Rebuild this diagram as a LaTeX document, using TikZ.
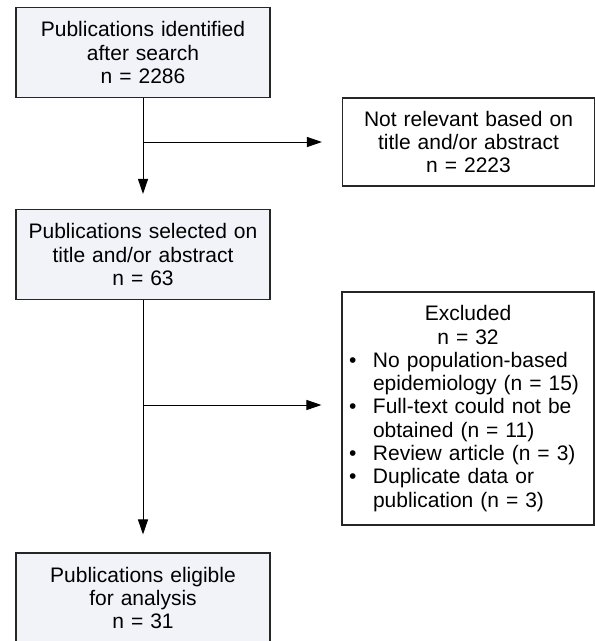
\documentclass[tikz,border=0pt]{standalone}
\usepackage{fontspec}
\setmainfont{Liberation Sans}
\usepackage{xcolor}
\usepackage{tikz}
\usetikzlibrary{arrows.meta}
\definecolor{boxfill}{HTML}{F2F3F9}

\newcommand{\exitem}[1]{\par\hangindent=26pt\hangafter=1\noindent\makebox[26pt][l]{\hspace{2pt}\textbullet}#1\par}

\begin{document}
\begin{tikzpicture}[x=1pt, y=1pt,
    every node/.style={font=\fontsize{21}{23.3}\selectfont},
    mainbox/.style={rectangle, draw=black!85, line width=1.1pt, fill=boxfill, minimum width=254pt, minimum height=90pt, text width=244pt, align=center, inner sep=0pt},
    sidebox/.style={rectangle, draw=black!85, line width=1.1pt, fill=white, minimum width=252pt, text width=242pt, inner sep=0pt},
    flow/.style={line width=1pt, -{Triangle[length=15pt, width=10pt]}, shorten >=16pt}]
			\useasboundingbox (0,0) rectangle (595,-641);
			% Nodes
			\node[mainbox] (found) at (143,-52.5) {Publications identified\\after search\\n = 2286};
			\node[mainbox] (selected) at (143,-254.5) {Publications selected on\\title and/or abstract\\n = 63};
			\node[mainbox] (eligible) at (143,-598) {Publications eligible\\for analysis\\n = 31};
			\node[sidebox, minimum height=88pt, align=center] (notrel) at (468.5,-142) {Not relevant based on\\title and/or abstract\\n = 2223};
			\node[sidebox, minimum height=233pt] (excl) at (468,-408.5) {%
				{\centering Excluded\\n = 32\par}\raggedright
				\exitem{No population-based\newline epidemiology (n = 15)}
				\exitem{Full-text could not be\newline obtained (n = 11)}
				\exitem{Review article (n = 3)}
				\exitem{Duplicate data or\newline publication (n = 3)}};
			% Branch points
			\coordinate (split1) at (found.south |- notrel.west);
			\coordinate (split2) at (143,-405);
			\coordinate (end2) at (excl.west |- split2);
			% Edges
			\draw[flow, shorten >=15pt] (found.south) -- (selected.north);
			\draw[flow, shorten >=20pt] (split1) -- (notrel.west);
			\draw[flow, shorten >=18pt] (selected.south) -- (eligible.north);
			\draw[flow, shorten >=20pt] (split2) -- (end2);
		\end{tikzpicture}
\end{document}
